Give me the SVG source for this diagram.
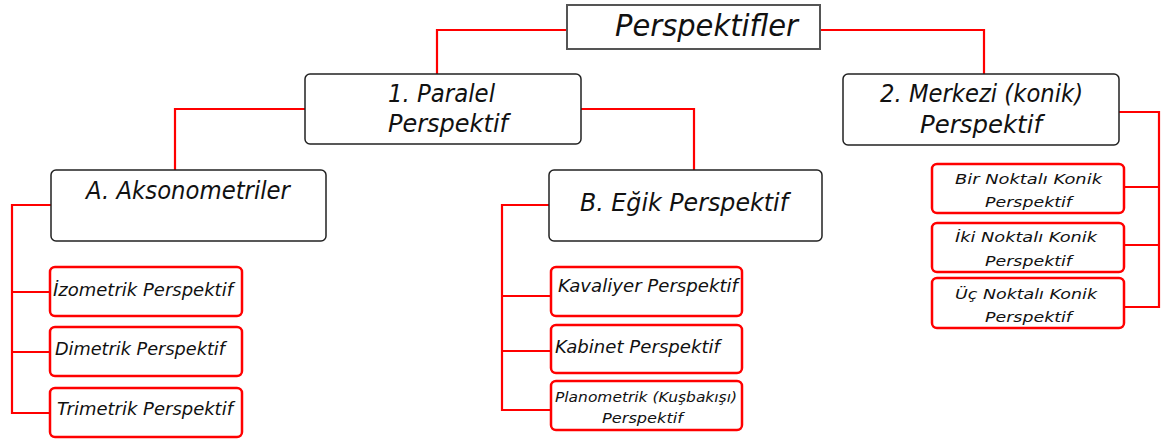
<svg xmlns="http://www.w3.org/2000/svg" width="1161" height="439" viewBox="0 0 1161 439">
<style>
.bg{fill:#fff}
.top{fill:#fff;stroke:#555;stroke-width:2}
.main{fill:#fff;stroke:#222;stroke-width:1.5}
.sub{fill:#fff;stroke:#f00;stroke-width:2.5}
.conn{fill:none;stroke:#f00;stroke-width:2.2}
text{font-family:"DejaVu Sans","Liberation Sans",sans-serif;font-style:italic;fill:#111}
.t1{font-size:30px}
.t2{font-size:25px}
.t3{font-size:17px}
.t4{font-size:14.5px}
</style>
<rect class="bg" width="1161" height="439"/>
<g id="connectors">
<path class="conn" d="M567,30 H437 V74"/>
<path class="conn" d="M820,30 H984 V74"/>
<path class="conn" d="M305,109 H175 V170"/>
<path class="conn" d="M581,109 H694 V170"/>
<path class="conn" d="M1119,112 H1159 V307 H1124 M1159,187 H1124 M1159,245 H1124"/>
<path class="conn" d="M51,205 H12 V413 H50 M12,292 H50 M12,352 H50"/>
<path class="conn" d="M549,205 H502 V410 H551 M502,296 H551 M502,351 H551"/>
</g>
<g id="perspektifler">
<rect class="top" x="567" y="5" width="253" height="44"/>
<text class="t1" x="615" y="36" textLength="183" lengthAdjust="spacingAndGlyphs">Perspektifler</text>
</g>
<g id="paralel">
<rect class="main" x="305" y="74" width="276" height="70" rx="5"/>
<text class="t2" x="388" y="102" textLength="107" lengthAdjust="spacingAndGlyphs">1. Paralel</text>
<text class="t2" x="388" y="132" textLength="120" lengthAdjust="spacingAndGlyphs">Perspektif</text>
</g>
<g id="merkezi">
<rect class="main" x="843" y="74" width="276" height="71" rx="5"/>
<text class="t2" x="880" y="102" textLength="203" lengthAdjust="spacingAndGlyphs">2. Merkezi (konik)</text>
<text class="t2" x="920" y="133" textLength="122" lengthAdjust="spacingAndGlyphs">Perspektif</text>
</g>
<g id="aksonometriler">
<rect class="main" x="51" y="170" width="275" height="71" rx="5"/>
<text class="t2" x="86" y="199" textLength="204" lengthAdjust="spacingAndGlyphs">A. Aksonometriler</text>
</g>
<g id="egik">
<rect class="main" x="549" y="170" width="273" height="71" rx="5"/>
<text class="t2" x="580" y="211" textLength="208" lengthAdjust="spacingAndGlyphs">B. Eğik Perspektif</text>
</g>
<g id="izometrik">
<rect class="sub" x="50" y="267" width="192" height="49" rx="5"/>
<text class="t3" x="53" y="296" textLength="180" lengthAdjust="spacingAndGlyphs">İzometrik Perspektif</text>
</g>
<g id="dimetrik">
<rect class="sub" x="50" y="327" width="192" height="49" rx="5"/>
<text class="t3" x="55" y="355" textLength="170" lengthAdjust="spacingAndGlyphs">Dimetrik Perspektif</text>
</g>
<g id="trimetrik">
<rect class="sub" x="50" y="388" width="192" height="49" rx="5"/>
<text class="t3" x="57" y="415" textLength="176" lengthAdjust="spacingAndGlyphs">Trimetrik Perspektif</text>
</g>
<g id="kavaliyer">
<rect class="sub" x="551" y="267" width="191" height="49" rx="5"/>
<text class="t3" x="558" y="292" textLength="180" lengthAdjust="spacingAndGlyphs">Kavaliyer Perspektif</text>
</g>
<g id="kabinet">
<rect class="sub" x="551" y="325" width="191" height="48" rx="5"/>
<text class="t3" x="555" y="353" textLength="165" lengthAdjust="spacingAndGlyphs">Kabinet Perspektif</text>
</g>
<g id="planometrik">
<rect class="sub" x="551" y="381" width="191" height="49" rx="5"/>
<text class="t4" x="555" y="402" textLength="182" lengthAdjust="spacingAndGlyphs">Planometrik (Kuşbakışı)</text>
<text class="t4" x="602" y="423" textLength="81" lengthAdjust="spacingAndGlyphs">Perspektif</text>
</g>
<g id="bir">
<rect class="sub" x="932" y="164" width="192" height="49" rx="5"/>
<text class="t4" x="955" y="184" textLength="147" lengthAdjust="spacingAndGlyphs">Bir Noktalı Konik</text>
<text class="t4" x="985" y="207" textLength="87" lengthAdjust="spacingAndGlyphs">Perspektif</text>
</g>
<g id="iki">
<rect class="sub" x="932" y="223" width="192" height="49" rx="5"/>
<text class="t4" x="955" y="242" textLength="142" lengthAdjust="spacingAndGlyphs">İki Noktalı Konik</text>
<text class="t4" x="985" y="266" textLength="87" lengthAdjust="spacingAndGlyphs">Perspektif</text>
</g>
<g id="uc">
<rect class="sub" x="932" y="278" width="192" height="50" rx="5"/>
<text class="t4" x="955" y="299" textLength="142" lengthAdjust="spacingAndGlyphs">Üç Noktalı Konik</text>
<text class="t4" x="985" y="322" textLength="87" lengthAdjust="spacingAndGlyphs">Perspektif</text>
</g>
</svg>
